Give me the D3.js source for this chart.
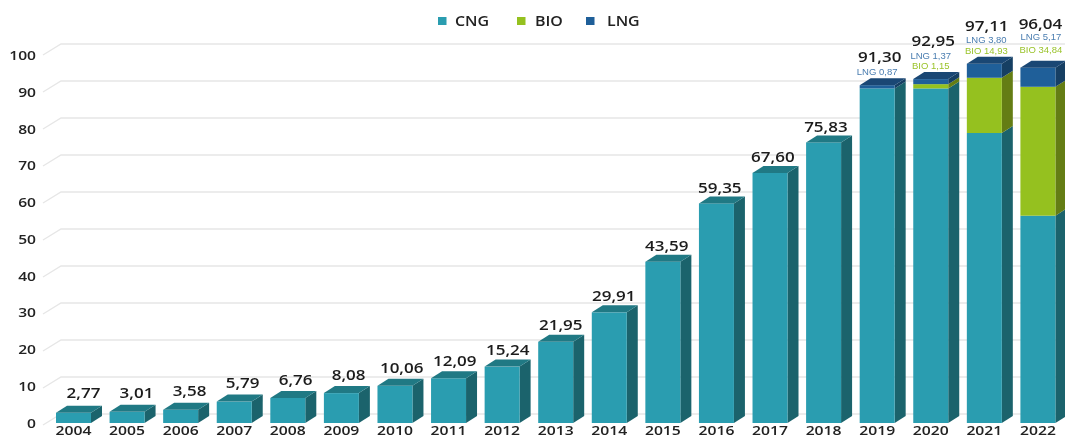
<!DOCTYPE html>
<html>
<head>
<meta charset="utf-8">
<script src="https://cdnjs.cloudflare.com/ajax/libs/d3/7.8.5/d3.min.js"></script>
<style>
html,body{margin:0;padding:0;background:#fff;overflow:hidden}
svg{display:block;filter:blur(0.45px)}
text{font-family:"Open Sans","Noto Sans",sans-serif}
</style>
</head>
<body>
<svg id="c" width="1065" height="439"></svg>
<script>
const years = [2004,2005,2006,2007,2008,2009,2010,2011,2012,2013,2014,2015,2016,2017,2018,2019,2020,2021,2022];
const totals = [2.77,3.01,3.58,5.79,6.76,8.08,10.06,12.09,15.24,21.95,29.91,43.59,59.35,67.60,75.83,91.30,92.95,97.11,96.04];
const bio = [0,0,0,0,0,0,0,0,0,0,0,0,0,0,0,0,1.15,14.93,34.84];
const lng = [0,0,0,0,0,0,0,0,0,0,0,0,0,0,0,0.87,1.37,3.80,5.17];
const cng = [2.77,3.01,3.58,5.79,6.76,8.08,10.06,12.09,15.24,21.95,29.91,43.59,59.35,67.60,75.83,90.43,90.43,78.38,56.03];
const seriesNames = ["CNG","BIO","LNG"];
const yTicks = [0,10,20,30,40,50,60,70,80,90,100];

const palette = {
  CNG:{front:"#2a9db0",side:"#1b636c",top:"#207984"},
  BIO:{front:"#95c11f",side:"#647d14",top:"#7a9c18"},
  LNG:{front:"#1f5f99",side:"#163f63",top:"#1a4774"}
};
const W=1065,depthX=11,depthY=7,wallX=18,wallY=11;
const svg=d3.select("#c");
const fmt=v=>d3.format(".2f")(v).replace(".",",");

const x=d3.scaleBand().domain(years).range([56,1055.4]).paddingInner(18.6/53.6).paddingOuter(0);
const yFront=d3.scaleLinear().domain([0,100]).range([423,53]);
const yBack=d3.scaleLinear().domain([0,100]).range([414,44]);

function stretch(sel,k){
  sel.each(function(){
    const t=d3.select(this);
    const px=+t.attr("x")||0, py=+t.attr("y")||0;
    t.attr("x",0).attr("y",0).attr("transform",`translate(${px},${py}) scale(${k},1)`);
  });
}

// Wall grid
svg.append("g").selectAll("path").data(yTicks).join("path")
  .attr("d",d=>{
    const yb=yBack(d);
    return `M${43},${yb+wallY}L${43+wallX},${yb}L${W},${yb}`;
  })
  .attr("fill","none").attr("stroke","#e6e6e6").attr("stroke-width",1.3);

// Y axis
const yAxis=svg.append("g").attr("transform","translate(36,0)")
  .call(d3.axisLeft(d3.scaleLinear().domain([0,100]).range([422,54.5])).tickValues(yTicks).tickSize(0).tickPadding(0));
yAxis.select(".domain").remove();
yAxis.selectAll("text").attr("dy",null)
  .attr("y",5).attr("x",0).attr("text-anchor","end")
  .style("font-size","13px").style("font-weight",600).style("font-family",'"Open Sans",sans-serif').attr("fill","#222");
yAxis.selectAll("text").call(stretch,1.2);

// X axis
const xAxis=svg.append("g").attr("transform","translate(0,435)")
  .call(d3.axisBottom(x).tickSize(0).tickPadding(0));
xAxis.select(".domain").remove();
xAxis.selectAll("text").attr("dy",null).attr("y",0).attr("x",0).attr("text-anchor","middle")
  .style("font-size","13px").style("font-weight",600).style("font-family",'"Open Sans",sans-serif').attr("fill","#222");
xAxis.selectAll("text").call(stretch,1.21);

// Bars
const bars=svg.append("g");
years.forEach((yr,i)=>{
  const bx=x(yr),bw=x.bandwidth();
  let acc=0;
  const segs=[["CNG",cng[i]],["BIO",bio[i]],["LNG",lng[i]]].filter(s=>s[1]>0);
  const g=bars.append("g");
  segs.forEach(([name,val],j)=>{
    const y0=yFront(acc),y1=yFront(acc+val);
    acc+=val;
    const c=palette[name];
    g.append("path")
      .attr("d",`M${bx+bw},${y1}L${bx+bw+depthX},${y1-depthY}L${bx+bw+depthX},${y0-depthY}L${bx+bw},${y0}Z`)
      .attr("fill",c.side);
    g.append("rect").attr("x",bx).attr("y",y1).attr("width",bw).attr("height",y0-y1).attr("fill",c.front);
    if(j===segs.length-1){
      g.append("path")
        .attr("d",`M${bx},${y1}L${bx+depthX},${y1-depthY}L${bx+bw+depthX},${y1-depthY}L${bx+bw},${y1}Z`)
        .attr("fill",c.top);
    }
  });
});

// Total labels
const labels=svg.append("g");
years.forEach((yr,i)=>{
  const cx=x(yr)+x.bandwidth()/2;
  const top=yFront(totals[i]);
  const hasSub=lng[i]>0;
  const nudge=hasSub?2.5:10-0.55*i;
  let rise=19.3-0.3*i;
  if(hasSub) rise = i===15?28 : i===18?44 : 38;
  labels.append("text").attr("x",cx+nudge).attr("y",top-rise+5).attr("text-anchor","middle")
    .style("font-size","14.3px").style("font-weight",600).attr("fill","#1c1c1c")
    .text(fmt(totals[i])).call(stretch,1.19);
  if(hasSub){
    const sx=cx+(i===17?2:i===18?3:0);
    const sub=(txt,rise2,col)=>labels.append("text").attr("x",sx).attr("y",top-rise2+3.5).attr("text-anchor","middle")
      .style("font-family",'"Liberation Sans",Arial,sans-serif').style("font-size","9.5px").attr("fill",col).text(txt);
    const hasBio=bio[i]>0;
    sub(`LNG ${fmt(lng[i])}`, !hasBio?14 : i===18?31 : 24, "#4a7db0");
    if(hasBio) sub(`BIO ${fmt(bio[i])}`, i===18?18:13.5, "#9ac32a");
  }
});

// Legend
const legendX=[438,517,586],legendTextX=[455,535,607];
const legend=svg.append("g");
seriesNames.forEach((n,i)=>{
  legend.append("rect").attr("x",legendX[i]).attr("y",17).attr("width",8.5).attr("height",8).attr("fill",palette[n].front);
  legend.append("text").attr("x",legendTextX[i]).attr("y",26).style("font-size","13.5px").style("font-weight",600)
    .attr("fill","#222").text(n).call(stretch,1.18);
});
</script>
</body>
</html>
